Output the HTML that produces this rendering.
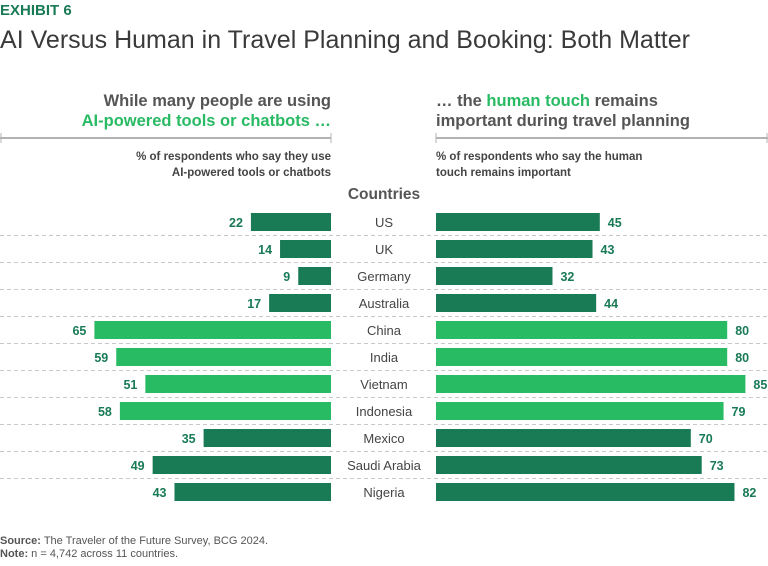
<!DOCTYPE html>
<html><head><meta charset="utf-8">
<style>
html,body{margin:0;padding:0;background:#fff;}
body{width:768px;height:561px;overflow:hidden;font-family:"Liberation Sans",sans-serif;}
svg text{font-family:"Liberation Sans",sans-serif;}
</style></head>
<body>
<svg id="chart" width="768" height="561" viewBox="0 0 768 561">
  <text x="0" y="15" font-size="15" font-weight="bold" fill="#197a56">EXHIBIT 6</text>
  <text x="0" y="48" font-size="25" fill="#3a3a3a" textLength="690">AI Versus Human in Travel Planning and Booking: Both Matter</text>

  <text x="331" y="106" text-anchor="end" font-size="16.5" font-weight="bold" fill="#555">While many people are using</text>
  <text x="331" y="126" text-anchor="end" font-size="16.5" font-weight="bold" fill="#29ba64">AI-powered tools or chatbots …</text>
  <text x="436" y="106" font-size="16.5" font-weight="bold" fill="#555">… the <tspan fill="#29ba64">human touch</tspan> remains</text>
  <text x="436" y="126" font-size="16.5" font-weight="bold" fill="#555">important during travel planning</text>

  <g stroke="#b3b3b3" stroke-width="2">
    <line x1="0" y1="138" x2="331" y2="138"/><line x1="1" y1="133" x2="1" y2="143" stroke-width="1"/><line x1="331" y1="133" x2="331" y2="143" stroke-width="1"/>
    <line x1="436" y1="138" x2="768" y2="138"/><line x1="436" y1="133" x2="436" y2="143" stroke-width="1"/><line x1="767" y1="133" x2="767" y2="143" stroke-width="1"/>
  </g>

  <text x="331" y="160" text-anchor="end" font-size="11.5" font-weight="bold" fill="#444">% of respondents who say they use</text>
  <text x="331" y="176" text-anchor="end" font-size="11.5" font-weight="bold" fill="#444">AI-powered tools or chatbots</text>
  <text x="436" y="160" font-size="11.5" font-weight="bold" fill="#444">% of respondents who say the human</text>
  <text x="436" y="176" font-size="11.5" font-weight="bold" fill="#444">touch remains important</text>
  <text x="384" y="199" text-anchor="middle" font-size="15.5" font-weight="bold" fill="#555">Countries</text>
  <g id="rows"></g>

  <text x="0" y="544" font-size="11" fill="#555"><tspan font-weight="bold">Source:</tspan> The Traveler of the Future Survey, BCG 2024.</text>
  <text x="0" y="557" font-size="11" fill="#555"><tspan font-weight="bold">Note:</tspan> n = 4,742 across 11 countries.</text>
</svg>
<script>
const countries = ["US","UK","Germany","Australia","China","India","Vietnam","Indonesia","Mexico","Saudi Arabia","Nigeria"];
const aiValues = [22,14,9,17,65,59,51,58,35,49,43];
const humanValues = [45,43,32,44,80,80,85,79,70,73,82];
const highlight = [false,false,false,false,true,true,true,true,false,false,false];

const NS = "http://www.w3.org/2000/svg";
const pxPerUnit = 3.64, leftEnd = 331, rightStart = 436, rowTop = 213, rowStep = 27, barH = 18;
const xLeft = v => leftEnd - v * pxPerUnit;
const xRight = v => rightStart + v * pxPerUnit;
const yRow = i => rowTop + i * rowStep;
const g = document.getElementById("rows");
function mk(tag, attrs){const e=document.createElementNS(NS,tag);for(const k in attrs)e.setAttribute(k,attrs[k]);g.appendChild(e);return e;}

countries.forEach((c,i)=>{
  const y = yRow(i);
  const col = highlight[i] ? "#29ba64" : "#197a56";
  const l = mk("rect",{x:xLeft(aiValues[i]),y:y,width:aiValues[i]*pxPerUnit,height:barH,fill:col});
  
  
  const lt = mk("text",{x:xLeft(aiValues[i])-8,y:y+14,"text-anchor":"end","font-size":12.5,"font-weight":"bold",fill:"#197a56"});
  lt.textContent = aiValues[i];
  
  
  const r = mk("rect",{x:rightStart,y:y,width:humanValues[i]*pxPerUnit,height:barH,fill:col});
  
  
  const rt = mk("text",{x:xRight(humanValues[i])+8,y:y+14,"font-size":12.5,"font-weight":"bold",fill:"#197a56"});
  rt.textContent = humanValues[i];
  
  
  const ct = mk("text",{x:384,y:y+14,"text-anchor":"middle","font-size":13,fill:"#444"});
  ct.textContent = c;
  
  
  if(i < countries.length-1){
    const s = mk("line",{x1:0,x2:768,y1:y+barH+4.5,y2:y+barH+4.5,stroke:"#c8c8c8","stroke-width":1,"stroke-dasharray":"4 3"});
    
    
  }
});
</script>
</body></html>
